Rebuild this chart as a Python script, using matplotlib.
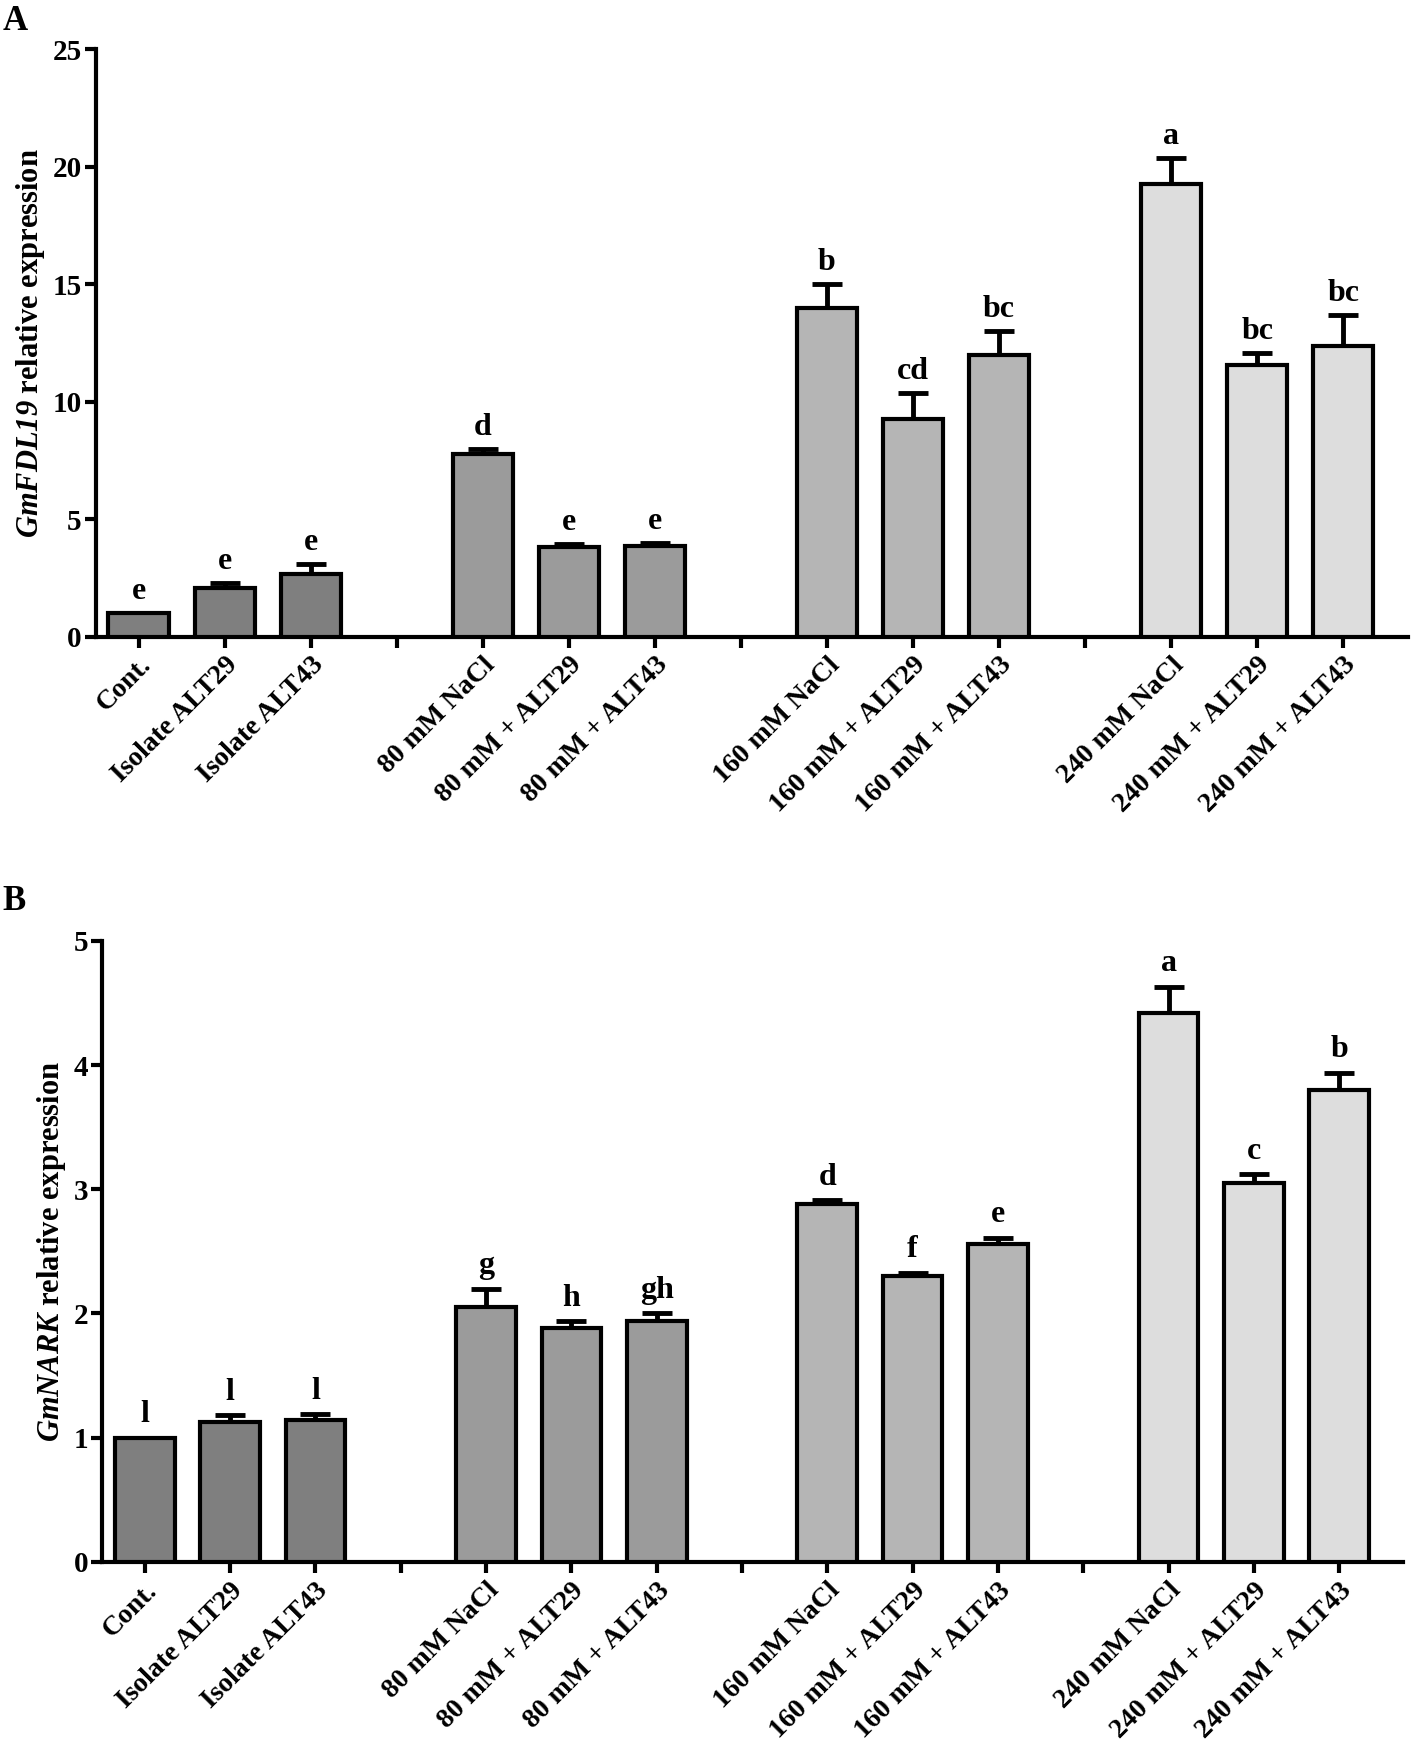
import numpy as np
import matplotlib
matplotlib.use("Agg")
import matplotlib.pyplot as plt

plt.rcParams['font.family'] = ['Liberation Serif', 'DejaVu Serif']
plt.rcParams['font.weight'] = 'bold'
# only the gene names are in math text, all bold italic
plt.rcParams['mathtext.fontset'] = 'custom'
plt.rcParams['mathtext.rm'] = 'Liberation Serif:bold:italic'
plt.rcParams['mathtext.bf'] = 'Liberation Serif:bold:italic'
plt.rcParams['mathtext.it'] = 'Liberation Serif:bold:italic'

labels = ['Cont.', 'Isolate ALT29', 'Isolate ALT43',
          '80 mM NaCl', '80 mM + ALT29', '80 mM + ALT43',
          '160 mM NaCl', '160 mM + ALT29', '160 mM + ALT43',
          '240 mM NaCl', '240 mM + ALT29', '240 mM + ALT43']

fdl19_mean = [1.0, 2.05, 2.65, 7.75, 3.8, 3.85, 14.0, 9.25, 12.0, 19.25, 11.55, 12.35]
fdl19_err = [0.0, 0.25, 0.45, 0.25, 0.15, 0.15, 1.0, 1.1, 1.0, 1.1, 0.5, 1.35]
fdl19_letters = ['e', 'e', 'e', 'd', 'e', 'e', 'b', 'cd', 'bc', 'a', 'bc', 'bc']

nark_mean = [1.0, 1.13, 1.14, 2.05, 1.88, 1.94, 2.88, 2.3, 2.56, 4.42, 3.05, 3.8]
nark_err = [0.0, 0.05, 0.05, 0.15, 0.06, 0.06, 0.03, 0.03, 0.05, 0.21, 0.07, 0.14]
nark_letters = ['l', 'l', 'l', 'g', 'h', 'gh', 'd', 'f', 'e', 'a', 'c', 'b']

group_colors = ['#7f7f7f', '#9b9b9b', '#b5b5b5', '#dddddd']

# 3 bars per group, one empty slot between groups
pos = [g * 4 + i for g in range(4) for i in range(3)]
colors = [group_colors[g] for g in range(4) for i in range(3)]
all_ticks = list(range(15))
tick_text = []
k = 0
for t in all_ticks:
    if t % 4 == 3:
        tick_text.append('')
    else:
        tick_text.append(labels[k])
        k += 1


def panel(ax, mean, err, letters, ymax, ylabel_gene, letter_pad):
    ax.bar(pos, mean, width=0.7, color=colors, edgecolor='black', linewidth=3, zorder=3)
    ax.errorbar(pos, mean, yerr=[np.zeros(len(err)), err], fmt='none', ecolor='black',
                elinewidth=3.5, capsize=11, capthick=3.5, zorder=2)
    for x, m, e, s in zip(pos, mean, err, letters):
        ax.annotate(s, (x, m + e), xytext=(0, letter_pad), textcoords='offset points',
                    ha='center', va='bottom', fontsize=23, fontweight='bold')
    ax.set_xlim(-0.5, 14.75)
    ax.set_ylim(0, ymax)
    ax.spines['top'].set_visible(False)
    ax.spines['right'].set_visible(False)
    ax.spines['left'].set_linewidth(3)
    ax.spines['bottom'].set_linewidth(3)
    ax.set_xticks(all_ticks)
    ax.set_xticklabels(tick_text, rotation=45, ha='right', rotation_mode='anchor',
                       fontsize=20, fontweight='bold')
    ax.tick_params(axis='both', width=3, length=8, direction='out')
    ax.tick_params(axis='y', labelsize=21, pad=2)
    for t in ax.get_yticklabels():
        t.set_fontweight('bold')
    ax.set_ylabel('$' + ylabel_gene + '$ relative expression',
                  fontsize=22, fontweight='bold', labelpad=4)


fig = plt.figure(figsize=(14.14, 17.43), dpi=100)
axA = fig.add_axes([0.0676, 0.6348, 0.928, 0.337])
axB = fig.add_axes([0.0723, 0.1039, 0.92, 0.3563])

panel(axA, fdl19_mean, fdl19_err, fdl19_letters, 25, 'GmFDL19', 5)
axA.set_yticks([0, 5, 10, 15, 20, 25])
panel(axB, nark_mean, nark_err, nark_letters, 5, 'GmNARK', 6)
axB.set_yticks([0, 1, 2, 3, 4, 5])

fig.text(0.002, 0.997, 'A', fontsize=25, fontweight='bold', va='top', ha='left')
fig.text(0.002, 0.492, 'B', fontsize=25, fontweight='bold', va='top', ha='left')

fig.savefig('out.png', dpi=100)
